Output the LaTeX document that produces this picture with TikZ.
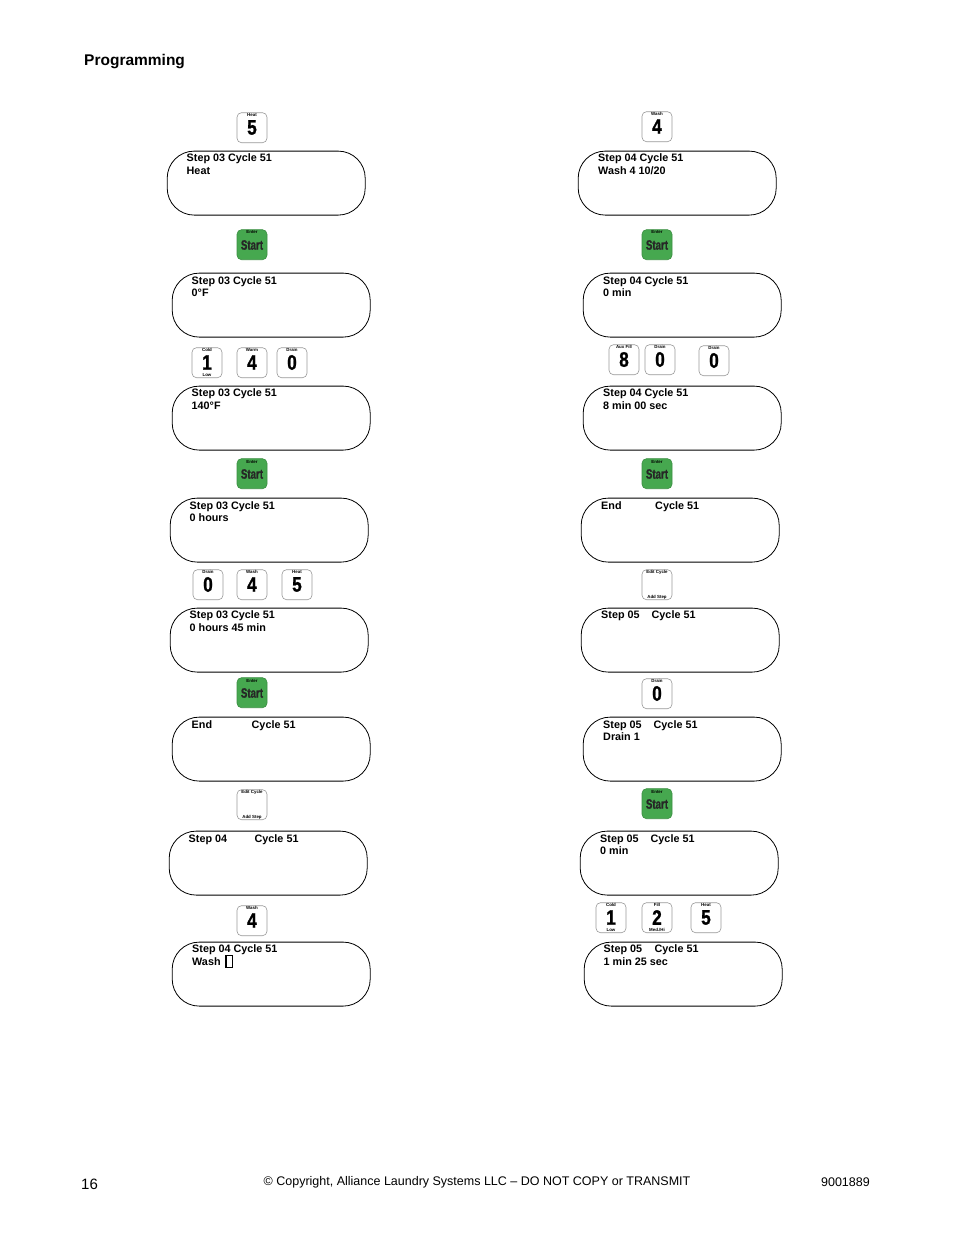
\documentclass[tikz,border=0pt]{standalone}
\usepackage{fontspec}
\setmainfont{Liberation Sans}
\newfontface\keyheavy[FakeBold=1.3]{Liberation Sans Bold}
\definecolor{keygreen}{HTML}{46A84F}
\definecolor{keyedge}{HTML}{999999}
\tikzset{
  x=1pt,y=-1pt,
  display/.style={draw=black,line width=0.8pt,rounded corners=27pt,minimum width=198pt,minimum height=64pt,anchor=north west,inner sep=0pt},
  disptext/.style={anchor=west,inner sep=0pt,font=\fontsize{10.8}{12}\selectfont\bfseries},
  keybox/.style={draw=keyedge,line width=0.6pt,fill=white,rounded corners=4.5pt,minimum width=30pt,minimum height=30pt,inner sep=0pt},
  startbox/.style={keybox,fill=keygreen,draw=keygreen!85!black},
  keydigit/.style={inner sep=0pt,font=\fontsize{21}{21}\keyheavy},
  keytiny/.style={inner sep=0pt,font=\fontsize{4.4}{5}\selectfont\bfseries},
  page/.style={inner sep=0pt,font=\fontsize{12.5}{14}\selectfont},
}
% name, centre x, centre y, digit, top label, bottom label
\newcommand{\numkey}[6]{%
  \node[keybox] (#1) at (#2,#3-0.3) {};
  \node[keydigit,xscale=.82] (#1d) at (#2,#3-0.5) {#4};
  \node[keytiny] (#1t) at (#2,#3-12.8) {#5};
  \node[keytiny] (#1b) at (#2,#3+12.3) {#6};
}
% name, centre x, centre y
\newcommand{\startkey}[3]{%
  \node[startbox] (#1) at (#2,#3-0.3) {};
  \node[inner sep=0pt,xscale=.72,font=\fontsize{13.5}{14}\keyheavy,text=black!85] (#1d) at (#2,#3) {Start};
  \node[keytiny] (#1t) at (#2,#3-12.5) {Enter};
}
% name, box x, box y, text x, line-1 y, line-2 y, line 1, line 2
\newcommand{\lcd}[8]{%
  \node[display] (#1) at (#2-0.2,#3-0.3) {};
  \node[disptext] (#1a) at (#4,#5+1) {#7};
  \node[disptext] (#1b) at (#4,#6) {#8};
}
\begin{document}
\begin{tikzpicture}
\useasboundingbox (0,0) rectangle (954,1235);
\node[anchor=west,inner sep=0pt,font=\fontsize{15.5}{16}\selectfont\bfseries] (title) at (84,62) {Programming};

% left column
\numkey{la}{252}{128}{5}{Heat}{}
\lcd{da}{167}{151}{186.5}{157.5}{170.5}{Step 03 Cycle 51}{Heat}
\startkey{lb}{252}{245}
\lcd{db}{172}{273}{191.5}{281}{292.5}{Step 03 Cycle 51}{0°F}
\numkey{lc}{207}{363}{1}{Cold}{Low}
\numkey{ld}{252}{363}{4}{Warm}{}
\numkey{le}{292}{363}{0}{Drain}{}
\lcd{dc}{172}{386}{191.5}{393}{405.5}{Step 03 Cycle 51}{140°F}
\startkey{lf}{252}{474}
\lcd{dd}{170}{498}{189.5}{506}{518}{Step 03 Cycle 51}{0 hours}
\numkey{lg}{208}{585}{0}{Drain}{}
\numkey{lh}{252}{585}{4}{Wash}{}
\numkey{li}{297}{585}{5}{Heat}{}
\lcd{de}{170}{608}{189.5}{615}{628}{Step 03 Cycle 51}{0 hours 45 min}
\startkey{lj}{252}{693}
\lcd{df}{172}{717}{191.5}{724.5}{737}{\makebox[60pt][l]{End}Cycle 51}{}
\numkey{lk}{252}{805}{}{Edit Cycle}{Add Step}
\lcd{dg}{169}{831}{188.5}{839}{852}{\makebox[66pt][l]{Step 04}Cycle 51}{}
\numkey{ll}{252}{921}{4}{Wash}{}
\lcd{dh}{172}{942}{192}{948.5}{961.5}{Step 04 Cycle 51}{Wash}
\node[draw=black,line width=1.5pt,minimum width=6.5pt,minimum height=12pt,inner sep=0pt] (cursor) at (229,961.5) {};

% right column
\numkey{ra}{657}{127}{4}{Wash}{}
\lcd{ea}{578}{151}{598}{157.5}{170.5}{Step 04 Cycle 51}{Wash 4 10/20}
\startkey{rb}{657}{245}
\lcd{eb}{583}{273}{603}{281}{293}{Step 04 Cycle 51}{0 min}
\numkey{rc}{624}{360}{8}{Aux Fill}{}
\numkey{rd}{660}{360}{0}{Drain}{}
\numkey{re}{714}{361}{0}{Drain}{}
\lcd{ec}{583}{386}{603}{393}{405.5}{Step 04 Cycle 51}{8 min 00 sec}
\startkey{rf}{657}{474}
\lcd{ed}{581}{498}{601}{506}{518}{\makebox[54pt][l]{End}Cycle 51}{}
\numkey{rg}{657}{585}{}{Edit Cycle}{Add Step}
\lcd{ee}{581}{608}{601}{615}{628}{\makebox[50.5pt][l]{Step 05}Cycle 51}{}
\numkey{rh}{657}{694}{0}{Drain}{}
\lcd{ef}{583}{717}{603}{724.5}{737}{\makebox[50.5pt][l]{Step 05}Cycle 51}{Drain 1}
\startkey{ri}{657}{804}
\lcd{eg}{580}{831}{600}{839}{851}{\makebox[50.5pt][l]{Step 05}Cycle 51}{0 min}
\numkey{rj}{611}{918}{1}{Cold}{Low}
\numkey{rk}{657}{918}{2}{Fill}{Med./Hi}
\numkey{rl}{706}{918}{5}{Heat}{}
\lcd{eh}{584}{942}{603.5}{948.5}{961.5}{\makebox[51pt][l]{Step 05}Cycle 51}{1 min 25 sec}

% footer
\node[anchor=west,inner sep=0pt,font=\fontsize{15}{16}\selectfont] (pageno) at (81,1184) {16};
\node[page] (copy) at (477,1182.5) {© Copyright, Alliance Laundry Systems LLC – DO NOT COPY or TRANSMIT};
\node[page,anchor=east] (docno) at (870,1182) {9001889};
\end{tikzpicture}
\end{document}
